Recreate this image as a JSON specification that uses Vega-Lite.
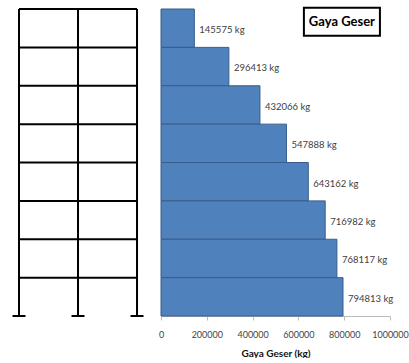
{
  "$schema": "https://vega.github.io/schema/vega-lite/v6.json",
  "autosize": {"type": "pad"},
  "padding": {"left": 0, "top": 6, "right": 0, "bottom": 0},
  "background": "white",
  "config": {"view": {"stroke": null}, "font": "Lato", "concat": {"spacing": 8}},
  "hconcat": [
    {
      "width": 150,
      "height": 307,
      "data": {"values": [
        {"member": "column", "x": 0, "x2": 0, "y": 0, "y2": 8},
        {"member": "column", "x": 1, "x2": 1, "y": 0, "y2": 8},
        {"member": "column", "x": 2, "x2": 2, "y": 0, "y2": 8},
        {"member": "beam", "x": 0, "x2": 2, "y": 1, "y2": 1},
        {"member": "beam", "x": 0, "x2": 2, "y": 2, "y2": 2},
        {"member": "beam", "x": 0, "x2": 2, "y": 3, "y2": 3},
        {"member": "beam", "x": 0, "x2": 2, "y": 4, "y2": 4},
        {"member": "beam", "x": 0, "x2": 2, "y": 5, "y2": 5},
        {"member": "beam", "x": 0, "x2": 2, "y": 6, "y2": 6},
        {"member": "beam", "x": 0, "x2": 2, "y": 7, "y2": 7},
        {"member": "beam", "x": 0, "x2": 2, "y": 8, "y2": 8},
        {"member": "support", "x": -0.11, "x2": 0.11, "y": 0, "y2": 0},
        {"member": "support", "x": 0.89, "x2": 1.11, "y": 0, "y2": 0},
        {"member": "support", "x": 1.89, "x2": 2.11, "y": 0, "y2": 0}
      ]},
      "mark": {"type": "rule", "color": "#000000", "strokeWidth": 2},
      "encoding": {
        "x": {"field": "x", "type": "quantitative", "scale": {"domain": [-0.322, 2.22], "nice": false, "zero": false}, "axis": null},
        "x2": {"field": "x2"},
        "y": {"field": "y", "type": "quantitative", "scale": {"domain": [0, 8], "nice": false}, "axis": null},
        "y2": {"field": "y2"}
      }
    },
    {
      "width": 229,
      "height": 307,
      "layer": [
        {
          "data": {"values": [
            {"storey": 7, "top": 8, "base": 0, "shear": 145575, "label": "145575 kg"},
            {"storey": 6, "top": 7, "base": 0, "shear": 296413, "label": "296413 kg"},
            {"storey": 5, "top": 6, "base": 0, "shear": 432066, "label": "432066 kg"},
            {"storey": 4, "top": 5, "base": 0, "shear": 547888, "label": "547888 kg"},
            {"storey": 3, "top": 4, "base": 0, "shear": 643162, "label": "643162 kg"},
            {"storey": 2, "top": 3, "base": 0, "shear": 716982, "label": "716982 kg"},
            {"storey": 1, "top": 2, "base": 0, "shear": 768117, "label": "768117 kg"},
            {"storey": 0, "top": 1, "base": 0, "shear": 794813, "label": "794813 kg"}
          ]},
          "layer": [
            {
              "mark": {"type": "rect", "fill": "#4F81BD", "stroke": "#385D8A", "strokeWidth": 1},
              "encoding": {
                "x": {"field": "base", "type": "quantitative", "scale": {"domain": [0, 1000000], "nice": false},
                  "axis": {"values": [0, 200000, 400000, 600000, 800000, 1000000], "format": "d", "grid": false,
                    "title": "Gaya Geser (kg)", "titleFont": "Lato", "titleFontSize": 10, "titleFontWeight": "bold", "titleColor": "#111111", "titlePadding": 9,
                    "labelFont": "Lato", "labelFontSize": 9, "labelColor": "#444444", "labelPadding": 10, "labelFlush": false, "labelOverlap": false,
                    "domainColor": "#BBBBBB", "tickColor": "#BBBBBB", "tickSize": 4}},
                "x2": {"field": "shear"},
                "y": {"field": "storey", "type": "quantitative", "scale": {"domain": [0, 8], "nice": false}, "axis": null},
                "y2": {"field": "top"}
              }
            },
            {
              "transform": [{"calculate": "datum.storey + 0.45", "as": "mid"}],
              "mark": {"type": "text", "align": "left", "baseline": "middle", "dx": 5, "font": "Lato", "fontSize": 9.5, "color": "#404040"},
              "encoding": {
                "x": {"field": "shear", "type": "quantitative"},
                "y": {"field": "mid", "type": "quantitative"},
                "text": {"field": "label"}
              }
            }
          ]
        },
        {
          "data": {"values": [{"left": 624000, "right": 956000, "low": 7.3, "high": 8.03, "cx": 790000, "cy": 7.65, "name": "Gaya Geser"}]},
          "layer": [
            {
              "mark": {"type": "rect", "fill": "white", "stroke": "#000000", "strokeWidth": 2},
              "encoding": {
                "x": {"field": "left", "type": "quantitative"},
                "x2": {"field": "right"},
                "y": {"field": "low", "type": "quantitative"},
                "y2": {"field": "high"}
              }
            },
            {
              "mark": {"type": "text", "font": "Lato", "fontSize": 13, "fontWeight": "bold", "color": "#000000", "align": "center", "baseline": "middle"},
              "encoding": {
                "x": {"field": "cx", "type": "quantitative"},
                "y": {"field": "cy", "type": "quantitative"},
                "text": {"field": "name"}
              }
            }
          ]
        }
      ]
    }
  ]
}
